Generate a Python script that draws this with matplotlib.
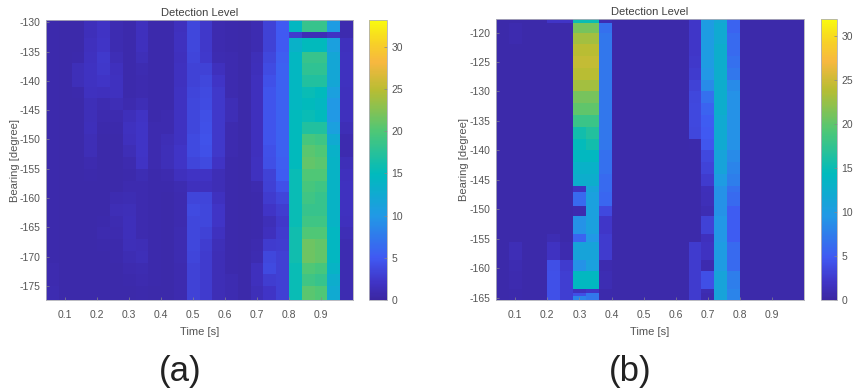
import numpy as np
import matplotlib.pyplot as plt
from matplotlib.colors import LinearSegmentedColormap

plt.rcParams['font.family'] = ['Liberation Sans', 'DejaVu Sans']
plt.rcParams['axes.unicode_minus'] = False

W, H = 856, 392

# time bins are shared by both panels
time_edges = [0.04, 0.08, 0.12, 0.16, 0.20, 0.24, 0.28, 0.32, 0.36, 0.40, 0.44, 0.48, 0.52,
              0.56, 0.60, 0.64, 0.68, 0.72, 0.76, 0.80, 0.84, 0.88, 0.92, 0.96, 1.00]
time_ticks = [0.1, 0.2, 0.3, 0.4, 0.5, 0.6, 0.7, 0.8, 0.9]

bearing_edges_a = [-129.6, -131.6, -132.7, -135, -137, -139, -141, -143, -145, -147, -149, -151, -153,
                   -155, -157, -159, -161, -163, -165, -167, -169, -171, -173, -175, -177.4]
bearing_ticks_a = [-130, -135, -140, -145, -150, -155, -160, -165, -170, -175]
cbar_ticks_a = [0, 5, 10, 15, 20, 25, 30]

# one line per time bin, top row first
levels_a = [
    [0.7, 0.7, 0.7, 0.7, 0.7, 0.7, 0.7, 0.7, 0.7, 0.7, 0.7, 0.7, 0.7, 0.7, 0.7, 0.7, 0.7, 0.7, 0.7, 0.7, 0.7, 0.8, 0.9, 1.0],
    [0.6, 0.6, 0.6, 0.6, 0.6, 0.6, 0.6, 0.6, 0.6, 0.6, 0.6, 0.6, 0.6, 0.6, 0.6, 0.6, 0.6, 0.6, 0.6, 0.6, 0.6, 0.6, 0.6, 0.6],
    [0.6, 0.6, 0.6, 0.7, 1.3, 1.3, 0.7, 0.6, 0.6, 0.6, 0.6, 0.6, 0.6, 0.6, 0.6, 0.6, 0.6, 0.6, 0.6, 0.6, 0.6, 0.6, 0.6, 0.6],
    [1.5, 1.5, 1.6, 1.7, 1.9, 1.9, 1.8, 1.4, 1.3, 1.5, 1.2, 1.2, 0.9, 0.7, 0.6, 0.6, 0.6, 0.6, 0.6, 0.6, 0.6, 0.6, 0.6, 0.6],
    [2.0, 2.0, 2.2, 2.5, 2.4, 2.2, 1.6, 1.0, 0.8, 0.7, 0.6, 0.6, 0.6, 0.6, 0.6, 0.6, 0.6, 0.7, 0.8, 0.7, 0.6, 0.6, 0.6, 0.6],
    [1.0, 1.0, 1.0, 1.2, 1.6, 1.8, 1.8, 1.2, 0.8, 0.7, 0.6, 0.6, 0.6, 0.6, 0.6, 1.0, 1.2, 1.0, 0.8, 0.7, 0.7, 0.6, 0.6, 0.6],
    [0.7, 0.7, 0.7, 0.7, 0.7, 0.7, 0.7, 0.9, 1.5, 1.7, 1.6, 1.2, 0.8, 0.7, 0.8, 1.1, 1.4, 1.5, 1.5, 1.3, 1.1, 0.8, 0.7, 0.6],
    [1.6, 1.6, 1.6, 1.4, 1.0, 0.8, 0.8, 1.2, 2.0, 2.2, 2.2, 2.2, 2.0, 1.1, 0.9, 0.8, 0.8, 0.8, 0.9, 1.2, 1.4, 1.0, 0.8, 0.7],
    [0.7, 0.7, 0.7, 0.7, 0.7, 0.7, 0.7, 0.7, 0.7, 0.8, 0.8, 0.8, 0.8, 0.7, 0.7, 0.7, 0.7, 0.7, 0.7, 0.7, 0.7, 0.7, 0.7, 0.6],
    [0.7, 0.7, 0.7, 0.7, 0.7, 0.7, 0.7, 0.7, 0.8, 0.9, 1.2, 1.3, 1.3, 0.9, 0.7, 0.6, 0.6, 0.6, 0.6, 0.6, 0.6, 0.6, 0.6, 0.6],
    [1.6, 1.8, 1.7, 1.6, 1.7, 1.8, 1.9, 1.9, 1.9, 1.9, 1.9, 2.2, 2.2, 1.6, 1.0, 0.9, 0.9, 0.9, 1.0, 1.0, 1.0, 0.9, 0.9, 0.9],
    [3.6, 3.6, 3.6, 3.4, 3.2, 3.2, 3.4, 3.6, 3.6, 3.6, 3.8, 3.8, 3.4, 2.0, 1.6, 3.4, 3.8, 3.6, 3.6, 3.6, 3.4, 3.2, 3.2, 3.2],
    [2.4, 2.4, 2.4, 2.5, 3.2, 3.6, 3.8, 4.0, 4.2, 4.3, 4.5, 4.3, 3.8, 2.0, 1.6, 3.4, 3.6, 3.6, 3.2, 2.8, 2.6, 2.6, 2.6, 2.6],
    [0.8, 0.8, 0.8, 1.0, 1.6, 2.2, 2.4, 2.4, 2.4, 2.4, 2.4, 2.4, 2.0, 1.2, 1.2, 1.8, 2.2, 2.2, 1.8, 1.4, 1.2, 1.2, 1.2, 1.2],
    [0.7, 0.7, 0.7, 0.8, 0.8, 0.9, 0.9, 1.2, 1.2, 0.9, 0.8, 0.8, 0.7, 0.7, 0.7, 0.7, 0.7, 0.7, 0.7, 0.7, 0.7, 0.7, 1.0, 1.0],
    [0.6, 0.6, 0.6, 0.6, 0.6, 0.6, 0.6, 0.6, 0.6, 0.6, 0.6, 0.6, 0.6, 0.6, 0.6, 0.6, 0.6, 0.6, 0.6, 0.6, 0.6, 0.6, 0.6, 0.6],
    [1.0, 1.0, 1.0, 1.4, 1.5, 1.6, 1.6, 1.6, 1.6, 1.6, 1.6, 1.6, 1.7, 1.8, 0.9, 0.7, 0.7, 0.7, 0.7, 0.8, 1.0, 1.6, 1.6, 1.4],
    [3.2, 3.2, 3.2, 3.6, 4.0, 4.4, 4.6, 4.6, 4.6, 4.6, 4.6, 4.4, 4.2, 3.2, 3.0, 2.6, 2.2, 1.4, 1.6, 2.6, 3.6, 3.8, 2.8, 2.2],
    [5.0, 5.0, 5.0, 5.4, 5.6, 5.6, 5.6, 5.6, 5.6, 5.6, 5.6, 5.6, 5.4, 5.2, 4.4, 3.4, 2.8, 2.4, 2.6, 2.8, 3.0, 3.0, 3.0, 3.0],
    [14.5, 2.6, 13.5, 14.5, 14.5, 14.5, 14.5, 14.5, 15.0, 15.0, 15.0, 15.0, 15.0, 15.5, 15.5, 15.5, 15.5, 15.5, 16.0, 16.0, 16.0, 15.5, 15.5, 15.5],
    [18.5, 1.2, 15.0, 18.5, 18.0, 17.0, 15.5, 15.0, 15.5, 17.0, 19.5, 20.5, 21.0, 20.0, 19.5, 19.0, 18.5, 19.0, 20.0, 21.5, 21.5, 20.0, 19.0, 20.5],
    [18.5, 1.2, 15.0, 18.5, 18.0, 17.0, 15.0, 14.5, 15.0, 17.0, 19.0, 20.0, 20.5, 20.0, 19.0, 18.5, 18.5, 19.0, 20.0, 21.0, 21.0, 19.5, 18.5, 20.0],
    [10.5, 2.0, 11.0, 12.0, 12.0, 12.0, 11.0, 10.0, 10.0, 11.0, 12.5, 13.5, 14.0, 14.0, 14.0, 14.0, 14.0, 14.0, 14.5, 14.5, 14.5, 14.0, 13.0, 12.5],
    [0.9, 0.9, 1.6, 1.8, 1.8, 1.8, 1.6, 1.6, 1.6, 1.2, 0.8, 0.9, 1.4, 1.6, 1.8, 1.8, 1.8, 1.6, 1.2, 1.0, 1.0, 1.0, 1.0, 1.0],
]

bearing_edges_b = [-117.7, -118.4, -120, -122, -124, -126, -128, -130, -132, -134, -136, -138, -140,
                   -142, -144, -146, -147, -149.4, -151.2, -154.2, -155.5, -158.6, -160.4, -163.5,
                   -164.2, -164.8, -165.4]
bearing_ticks_b = [-120, -125, -130, -135, -140, -145, -150, -155, -160, -165]
cbar_ticks_b = [0, 5, 10, 15, 20, 25, 30]

levels_b = [
    [0.6, 0.6, 0.6, 0.6, 0.6, 0.6, 0.6, 0.6, 0.6, 0.6, 0.6, 0.6, 0.6, 0.6, 0.6, 0.6, 0.6, 0.6, 0.6, 0.6, 0.6, 0.6, 0.6, 0.6, 0.6, 0.6],
    [0.6, 0.8, 0.8, 0.6, 0.6, 0.6, 0.6, 0.6, 0.6, 0.6, 0.6, 0.6, 0.6, 0.6, 0.6, 0.6, 0.6, 0.6, 0.6, 0.6, 1.2, 0.9, 0.8, 0.7, 0.7, 0.7],
    [0.6, 0.6, 0.6, 0.6, 0.6, 0.6, 0.6, 0.6, 0.6, 0.6, 0.6, 0.6, 0.6, 0.6, 0.6, 0.6, 0.6, 0.6, 0.6, 0.6, 0.6, 0.6, 0.6, 0.6, 0.6, 0.6],
    [0.6, 0.6, 0.6, 0.6, 0.6, 0.6, 0.6, 0.6, 0.6, 0.6, 0.6, 0.6, 0.6, 0.6, 0.6, 0.6, 0.6, 0.6, 0.6, 0.6, 0.6, 0.6, 0.6, 0.6, 0.6, 0.6],
    [2.0, 0.6, 0.6, 0.6, 0.6, 0.6, 0.6, 0.6, 0.6, 0.6, 0.6, 0.6, 0.6, 0.6, 0.6, 0.6, 0.6, 0.6, 0.6, 1.0, 1.8, 4.0, 4.2, 4.2, 4.2, 4.2],
    [2.0, 0.6, 0.6, 0.6, 0.6, 0.6, 0.6, 0.6, 0.6, 0.6, 0.6, 0.6, 0.6, 0.6, 0.6, 0.6, 0.6, 0.6, 0.6, 0.6, 0.8, 2.6, 2.8, 2.8, 2.8, 2.8],
    [15.0, 21.0, 23.0, 24.0, 24.5, 24.0, 23.0, 21.0, 20.0, 18.0, 15.5, 14.5, 14.0, 13.0, 12.5, 1.8, 6.0, 0.8, 9.0, 5.5, 11.0, 9.0, 14.0, 1.5, 4.0, 8.0],
    [15.0, 21.0, 23.0, 24.0, 24.5, 24.0, 23.0, 21.0, 20.0, 18.0, 16.5, 15.5, 14.0, 13.0, 12.5, 11.0, 10.5, 10.5, 10.5, 9.5, 11.0, 10.5, 14.0, 2.0, 7.0, 7.0],
    [1.0, 6.5, 7.0, 7.0, 7.0, 7.0, 7.0, 7.0, 7.0, 7.0, 7.0, 7.0, 6.5, 6.5, 6.0, 6.0, 5.8, 3.5, 2.2, 2.5, 2.5, 0.8, 1.0, 0.7, 0.7, 0.7],
    [0.6, 0.6, 0.6, 0.6, 0.6, 0.6, 0.6, 0.6, 0.6, 0.6, 0.6, 0.6, 0.6, 0.6, 0.6, 0.6, 0.6, 0.6, 0.6, 0.6, 0.6, 0.6, 0.6, 0.6, 0.6, 0.6],
    [0.6, 0.6, 0.6, 0.6, 0.6, 0.6, 0.6, 0.6, 0.6, 0.6, 0.6, 0.6, 0.6, 0.6, 0.6, 0.6, 0.6, 0.6, 0.6, 0.6, 0.6, 0.6, 0.6, 0.6, 0.6, 0.6],
    [0.6, 0.6, 0.6, 0.6, 0.6, 0.6, 0.6, 0.6, 0.6, 0.6, 0.6, 0.6, 0.6, 0.6, 0.6, 0.6, 0.6, 0.6, 0.6, 0.6, 0.6, 0.6, 0.6, 0.6, 0.6, 0.6],
    [0.6, 0.6, 0.6, 0.6, 0.6, 0.6, 0.6, 0.6, 0.6, 0.6, 0.6, 0.6, 0.6, 0.6, 0.6, 0.6, 0.6, 0.6, 0.6, 0.6, 0.6, 0.6, 0.6, 0.6, 0.6, 0.6],
    [0.6, 0.6, 0.6, 0.6, 0.6, 0.6, 0.6, 0.6, 0.6, 0.6, 0.6, 0.6, 0.6, 0.6, 0.6, 0.6, 0.6, 0.6, 0.6, 0.6, 0.6, 0.6, 0.6, 0.6, 0.6, 0.6],
    [0.6, 0.6, 0.6, 0.6, 0.6, 0.6, 0.6, 0.6, 0.6, 0.6, 0.6, 0.6, 0.6, 0.6, 0.6, 0.6, 0.6, 0.6, 0.6, 0.6, 0.6, 0.6, 0.6, 0.6, 0.6, 0.6],
    [2.2, 2.2, 2.2, 2.2, 2.3, 2.6, 3.0, 3.4, 3.6, 3.6, 3.4, 0.7, 0.6, 0.6, 0.6, 0.6, 0.6, 0.6, 0.6, 0.6, 2.5, 2.6, 2.6, 2.6, 2.6, 2.6],
    [10.0, 10.0, 10.0, 10.0, 10.0, 9.5, 8.5, 6.5, 5.5, 5.0, 4.8, 4.5, 3.5, 3.2, 2.6, 1.4, 1.3, 1.0, 3.0, 1.5, 1.8, 0.8, 4.0, 1.0, 0.8, 0.8],
    [11.5, 12.0, 12.0, 12.5, 12.5, 12.5, 12.5, 12.5, 12.5, 12.0, 12.0, 12.0, 11.0, 11.0, 10.0, 9.0, 9.0, 9.0, 9.5, 9.5, 10.0, 10.0, 11.0, 11.0, 11.0, 11.0],
    [5.5, 5.5, 6.0, 6.0, 6.5, 7.0, 8.5, 9.0, 9.0, 9.0, 9.0, 9.0, 8.5, 8.0, 7.5, 6.5, 6.0, 5.0, 5.0, 5.0, 6.0, 6.0, 7.5, 8.0, 8.0, 8.0],
    [0.6, 0.6, 0.6, 0.6, 0.6, 0.6, 0.6, 0.6, 0.6, 0.6, 0.6, 0.6, 0.6, 0.6, 0.6, 0.6, 0.6, 0.6, 0.6, 0.6, 0.6, 0.6, 0.6, 0.6, 0.6, 0.6],
    [0.6, 0.6, 0.6, 0.6, 0.6, 0.6, 0.6, 0.6, 0.6, 0.6, 0.6, 0.6, 0.6, 0.6, 0.6, 0.6, 0.6, 0.6, 0.6, 0.6, 0.6, 0.6, 0.6, 0.6, 0.6, 0.6],
    [0.6, 0.6, 0.6, 0.6, 0.6, 0.6, 0.6, 0.6, 0.6, 0.6, 0.6, 0.6, 0.6, 0.6, 0.6, 0.6, 0.6, 0.6, 0.6, 0.6, 0.6, 0.6, 0.6, 0.6, 0.6, 0.6],
    [0.6, 0.6, 0.6, 0.6, 0.6, 0.6, 0.6, 0.6, 0.6, 0.6, 0.6, 0.6, 0.6, 0.6, 0.6, 0.6, 0.6, 0.6, 0.6, 0.6, 0.6, 0.6, 0.6, 0.6, 0.6, 0.6],
    [0.6, 0.6, 0.6, 0.6, 0.6, 0.6, 0.6, 0.6, 0.6, 0.6, 0.6, 0.6, 0.6, 0.6, 0.6, 0.6, 0.6, 0.6, 0.6, 0.6, 0.6, 0.6, 0.6, 0.6, 0.6, 0.6],
]

# matplotlib has no parula, so approximate it from the colorbar in the picture
parula = LinearSegmentedColormap.from_list('parula', [
    (0.000, (0.2300, 0.1500, 0.6300)),
    (0.060, (0.2500, 0.2000, 0.7700)),
    (0.150, (0.2500, 0.3500, 0.9500)),
    (0.300, (0.1300, 0.6000, 0.9000)),
    (0.450, (0.0000, 0.7300, 0.7400)),
    (0.600, (0.3000, 0.7800, 0.4700)),
    (0.750, (0.7200, 0.7400, 0.2000)),
    (0.850, (0.9700, 0.7200, 0.2500)),
    (0.920, (0.9700, 0.8200, 0.1500)),
    (1.000, (0.9763, 0.9831, 0.0538)),
])

GREY = '#555555'


def px_axes(fig, left, top, right, bottom):
    """Axes placed with pixel coordinates measured from the top left."""
    return fig.add_axes([left / W, 1 - bottom / H, (right - left) / W, (bottom - top) / H])


def draw_panel(fig, box, cbar_box, bearing_edges, levels, y_ticks, c_ticks, vmax):
    ax = px_axes(fig, *box)
    z = np.array(levels).T
    mesh = ax.pcolormesh(time_edges, bearing_edges, z, cmap=parula, vmin=0, vmax=vmax,
                         shading='flat', rasterized=True)
    ax.set_xlim(0.04, 1.0)
    ax.set_ylim(bearing_edges[-1], bearing_edges[0])
    ax.set_xticks(time_ticks)
    ax.set_yticks(y_ticks)
    ax.tick_params(length=2, width=0.5, color='#888888', direction='in', labelsize=7.5,
                   labelcolor=GREY, top=False, right=False)
    ax.tick_params(axis='x', pad=7)
    ax.tick_params(axis='y', pad=4)
    for s in ax.spines.values():
        s.set_color('#b0b0b8')
        s.set_linewidth(0.6)
    ax.set_xlabel('Time [s]', fontsize=8, color=GREY, labelpad=5)
    ax.set_ylabel('Bearing [degree]', fontsize=8, color=GREY, labelpad=0)
    ax.set_title('Detection Level', fontsize=8, color='#404040', pad=3)

    cax = px_axes(fig, *cbar_box)
    cb = fig.colorbar(mesh, cax=cax)
    cb.set_ticks(c_ticks)
    cax.tick_params(length=2, width=0.5, color='#888888', direction='in', labelsize=7.5,
                    labelcolor=GREY, pad=3)
    cb.outline.set_edgecolor('#b0b0b8')
    cb.outline.set_linewidth(0.6)
    return ax


fig = plt.figure(figsize=(W / 100, H / 100), dpi=100)

draw_panel(fig, (46, 20, 353, 300), (369, 20, 387, 300), bearing_edges_a, levels_a,
           bearing_ticks_a, cbar_ticks_a, 33.2)
draw_panel(fig, (496, 19, 804, 300), (821, 19, 837, 300), bearing_edges_b, levels_b,
           bearing_ticks_b, cbar_ticks_b, 31.9)

fig.text(180 / W, 1 - 372 / H, '(a)', fontsize=25, color='#222222', ha='center', va='center')
fig.text(630 / W, 1 - 372 / H, '(b)', fontsize=25, color='#222222', ha='center', va='center')

fig.savefig('out.png', dpi=100)
